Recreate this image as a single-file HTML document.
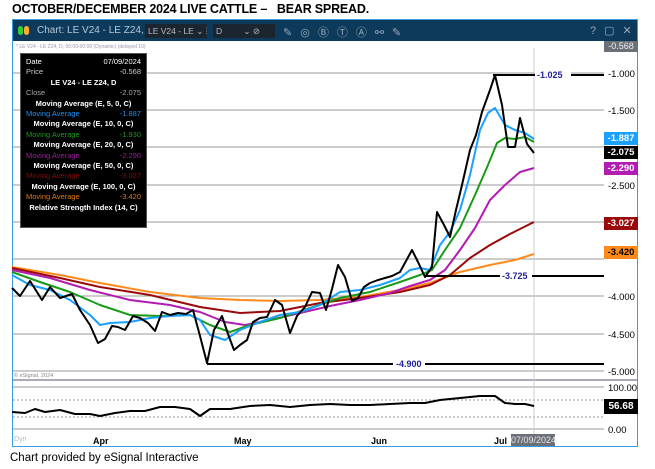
<!DOCTYPE html>
<html><head><meta charset="utf-8"><style>
body{margin:0;width:655px;height:469px;background:#fff;font-family:"Liberation Sans",sans-serif;position:relative;overflow:hidden}
.t{position:absolute;white-space:nowrap}
</style></head><body>
<div class="t" style="left:12px;top:2px;font-size:12.5px;font-weight:bold;color:#000;letter-spacing:-0.2px">OCTOBER/DECEMBER 2024 LIVE CATTLE –&nbsp;&nbsp; BEAR SPREAD.</div>
<div style="position:absolute;left:12px;top:19px;width:626px;height:428px;border:1px solid #3a9be0;box-sizing:border-box"></div>
<div style="position:absolute;left:13px;top:20px;width:624px;height:21px;background:#0d3a5a"></div>
<div class="t" style="left:18px;top:26px;width:5px;height:9px;background:#3c3;border-radius:3px"></div>
<div class="t" style="left:24px;top:26px;width:5px;height:9px;background:#fa3;border-radius:3px"></div>
<div class="t" style="left:37px;top:25px;font-size:10px;color:#b8c8d8">Chart: LE V24 - LE Z24, D</div>
<div class="t" style="left:145px;top:24px;width:59px;height:14px;background:#1b2530;color:#bbb;font-size:8.5px;line-height:14px;padding-left:3px;overflow:hidden">LE V24 - LE ⌄ ☰</div>
<div class="t" style="left:213px;top:24px;width:59px;height:14px;background:#1b2530;color:#bbb;font-size:8.5px;line-height:14px;padding-left:3px;overflow:hidden">D&nbsp;&nbsp;&nbsp;&nbsp;&nbsp;&nbsp;&nbsp;&nbsp;&nbsp;⌄ ⊘</div>
<div class="t" style="left:283px;top:24px;font-size:11px;color:#9ab;letter-spacing:8px">✎◎ⒷⓉⒶ⚯✎</div>
<div class="t" style="left:590px;top:24px;font-size:11px;color:#9ab;letter-spacing:8px">?▢✕</div>
<div class="t" style="left:16px;top:44px;font-size:5px;color:#99a">* LE V24 - LE Z24, D, 00:00-00:00 (Dynamic) (delayed 10)</div>
<svg width="655" height="469" style="position:absolute;left:0;top:0">
<g stroke="#999" stroke-width="1">
<line x1="13" y1="73" x2="604" y2="73"/><line x1="13" y1="110" x2="604" y2="110"/><line x1="13" y1="147" x2="604" y2="147"/><line x1="13" y1="185" x2="604" y2="185"/><line x1="13" y1="222" x2="604" y2="222"/><line x1="13" y1="259" x2="604" y2="259"/><line x1="13" y1="296" x2="604" y2="296"/><line x1="13" y1="334" x2="604" y2="334"/><line x1="13" y1="371" x2="604" y2="371"/>
<line x1="13" y1="387" x2="604" y2="387"/><line x1="13" y1="429" x2="604" y2="429"/>
<line x1="13" y1="400" x2="604" y2="400" stroke-dasharray="2,2"/><line x1="13" y1="417" x2="604" y2="417" stroke-dasharray="2,2"/>
</g>
<line x1="13" y1="380" x2="637" y2="380" stroke="#aab" stroke-width="2"/>
<line x1="534" y1="48" x2="534" y2="437" stroke="#ccc"/>
<g fill="none" stroke-width="2" stroke-linejoin="round">
<polyline stroke="#ff8a1c" points="12,267 60,275 100,283 150,292 200,298 240,300 280,301 320,300 360,297 400,290 430,283 460,272 490,265 515,260 534,254"/>
<polyline stroke="#9b0a0a" points="12,268 60,278 100,287 150,295 200,307 240,313 280,311 320,303 360,298 400,292 430,285 450,275 470,258 490,245 510,234 534,222"/>
<polyline stroke="#b21cb2" points="12,270 50,278 90,290 130,300 170,305 200,312 225,322 245,325 270,320 300,313 330,306 360,300 390,293 410,286 430,280 445,270 460,250 475,228 490,200 505,185 520,172 534,168"/>
<polyline stroke="#1a9a1a" points="12,272 40,282 70,292 100,305 130,315 160,316 190,315 210,325 230,332 250,325 280,318 310,308 340,298 370,292 400,282 420,275 432,270 445,250 460,228 475,195 488,165 497,143 505,138 515,139 525,137 534,142"/>
<polyline stroke="#1aa0ff" points="12,275 30,285 50,290 70,300 90,315 100,325 110,323 130,322 150,318 170,316 190,315 200,320 210,335 225,340 240,330 260,322 280,315 300,312 320,305 340,292 360,290 380,285 400,278 410,270 420,268 430,270 440,245 450,232 460,210 470,175 480,130 488,113 495,108 505,125 515,130 525,133 534,139"/>
<polyline stroke="#000" points="12,288 20,296 30,281 42,300 50,287 60,298 72,294 80,310 90,325 98,343 105,339 112,326 118,327 125,330 133,316 140,318 148,323 155,331 162,312 170,315 178,313 186,314 193,310 200,336 207,363 214,330 222,316 228,334 234,350 240,345 247,340 253,322 260,318 267,317 275,300 282,305 290,333 297,316 305,307 312,292 320,293 326,310 332,289 338,265 345,277 352,301 358,298 364,287 370,283 378,280 385,278 392,276 400,272 412,250 418,262 425,277 432,267 437,212 444,225 450,237 456,210 462,185 470,150 476,135 482,112 490,90 495,75 502,105 508,147 515,147 520,118 527,144 534,153"/>
<polyline stroke="#000" points="12,412 25,413 35,409 45,412 60,410 75,414 90,414 100,416 115,413 130,411 145,411 160,407 175,407 190,409 200,416 210,409 230,409 250,406 270,405 290,407 310,405 330,404 350,405 370,405 390,404 410,403 425,403 440,400 460,398 480,396 495,396 505,403 515,404 525,404 534,406"/>
<g stroke="#000"><line x1="493" y1="75" x2="604" y2="75"/><line x1="425" y1="276" x2="604" y2="276"/><line x1="207" y1="364" x2="604" y2="364"/></g>
</g>
<g font-size="9" font-weight="bold" fill="#22229a" font-family="Liberation Sans">
<rect x="535" y="69" width="36" height="11" fill="#fff"/><text x="537" y="78">-1.025</text>
<rect x="500" y="270" width="32" height="11" fill="#fff"/><text x="502" y="279">-3.725</text>
<rect x="393" y="358" width="32" height="11" fill="#fff"/><text x="396" y="367">-4.900</text>
</g>
<g font-size="9.5" fill="#000" font-family="Liberation Sans">
<text x="608" y="77">-1.000</text><text x="608" y="114">-1.500</text><text x="608" y="189">-2.500</text><text x="608" y="300">-4.000</text><text x="608" y="338">-4.500</text><text x="608" y="375">-5.000</text>
<text x="608" y="391">100.00</text><text x="608" y="433">0.00</text>
</g>
</svg>
<div class="t" style="left:604px;top:41px;width:34px;height:11px;background:#6a6f78;color:#eee;font-size:9px;line-height:11px;text-align:center">-0.568</div>
<div class="t" style="left:604px;top:132px;width:34px;height:13px;background:#1aa0ff;color:#fff;font-size:9.5px;font-weight:bold;line-height:13px;text-align:center">-1.887</div>
<div class="t" style="left:604px;top:146px;width:34px;height:13px;background:#000;color:#fff;font-size:9.5px;font-weight:bold;line-height:13px;text-align:center">-2.075</div>
<div class="t" style="left:604px;top:162px;width:34px;height:13px;background:#b21cb2;color:#fff;font-size:9.5px;font-weight:bold;line-height:13px;text-align:center">-2.290</div>
<div class="t" style="left:604px;top:217px;width:34px;height:13px;background:#9b0a0a;color:#fff;font-size:9.5px;font-weight:bold;line-height:13px;text-align:center">-3.027</div>
<div class="t" style="left:604px;top:246px;width:34px;height:13px;background:#ff8a1c;color:#000;font-size:9.5px;font-weight:bold;line-height:13px;text-align:center">-3.420</div>
<div class="t" style="left:604px;top:399px;width:34px;height:15px;background:#000;color:#fff;font-size:10px;font-weight:bold;line-height:15px;text-align:center">56.68</div>
<div class="t" style="left:14px;top:373px;font-size:5.5px;color:#888">© eSignal, 2024</div>
<div class="t" style="left:14px;top:436px;font-size:7px;color:#abc">Dyn</div>
<div class="t" style="left:93px;top:436px;font-size:9px;font-weight:bold">Apr</div>
<div class="t" style="left:234px;top:436px;font-size:9px;font-weight:bold">May</div>
<div class="t" style="left:371px;top:436px;font-size:9px;font-weight:bold">Jun</div>
<div class="t" style="left:494px;top:436px;font-size:9px;font-weight:bold">Jul</div>
<div class="t" style="left:511px;top:434px;width:44px;height:12px;background:#6a6f78;color:#e8e8e8;font-size:9px;line-height:12px;text-align:center">07/09/2024</div>
<div style="position:absolute;left:20px;top:53px;width:127px;height:175px;background:#000;border:1px solid #555;box-sizing:border-box;font-size:7.5px;color:#fff;line-height:10.4px;padding:3px 5px">
<div style="display:flex;justify-content:space-between"><span>Date</span><span>07/09/2024</span></div>
<div style="display:flex;justify-content:space-between;color:#ccc"><span>Price</span><span>-0.568</span></div>
<div style="text-align:center;font-weight:bold">LE V24 - LE Z24, D</div>
<div style="display:flex;justify-content:space-between;color:#aaa"><span>Close</span><span>-2.075</span></div>
<div style="text-align:center;font-weight:bold">Moving Average (E, 5, 0, C)</div>
<div style="display:flex;justify-content:space-between;color:#1a90f0"><span>Moving Average</span><span>-1.887</span></div>
<div style="text-align:center;font-weight:bold">Moving Average (E, 10, 0, C)</div>
<div style="display:flex;justify-content:space-between;color:#1a9a1a"><span>Moving Average</span><span>-1.930</span></div>
<div style="text-align:center;font-weight:bold">Moving Average (E, 20, 0, C)</div>
<div style="display:flex;justify-content:space-between;color:#a01ca0"><span>Moving Average</span><span>-2.290</span></div>
<div style="text-align:center;font-weight:bold">Moving Average (E, 50, 0, C)</div>
<div style="display:flex;justify-content:space-between;color:#8b0a0a"><span>Moving Average</span><span>-3.027</span></div>
<div style="text-align:center;font-weight:bold">Moving Average (E, 100, 0, C)</div>
<div style="display:flex;justify-content:space-between;color:#e07a10"><span>Moving Average</span><span>-3.420</span></div>
<div style="text-align:center;font-weight:bold">Relative Strength Index (14, C)</div>
</div>
<div class="t" style="left:10px;top:452px;font-size:11.5px;color:#000">Chart provided by eSignal Interactive</div>
</body></html>
